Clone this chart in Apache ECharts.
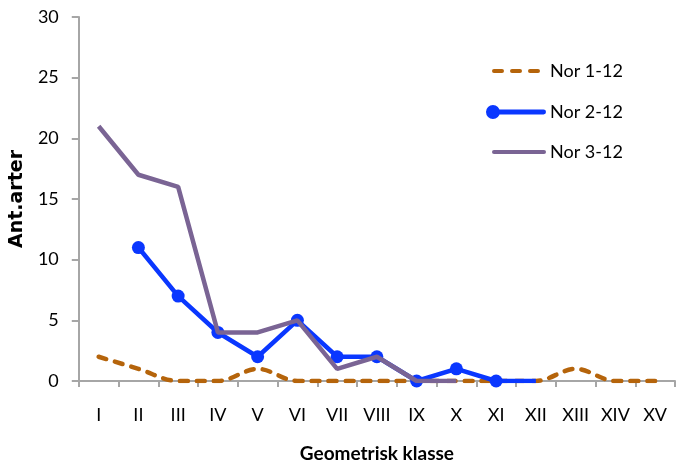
<!DOCTYPE html>
<html>
<head>
<meta charset="utf-8">
<script src="https://cdn.jsdelivr.net/npm/echarts@6/dist/echarts.min.js"></script>
<style>
  html, body { margin: 0; padding: 0; background: #fff; }
  #chart { width: 676px; height: 468px; }
</style>
</head>
<body>
<div id="chart"></div>
<script>
// Geometric classes (Roman numerals) on the category axis
var classes = ['I', 'II', 'III', 'IV', 'V', 'VI', 'VII', 'VIII', 'IX', 'X', 'XI', 'XII', 'XIII', 'XIV', 'XV'];

// Number of species per geometric class for each sample
var nor1 = [2, 1, 0, 0, 1, 0, 0, 0, 0, 0, 0, 0, 1, 0, 0];
var nor2 = [null, 11, 7, 4, 2, 5, 2, 2, 0, 1, 0, 0, null, null, null];
var nor3 = [21, 17, 16, 4, 4, 5, 1, 2, 0, 0, null, null, null, null, null];

var seriesNames = ['Nor 1-12', 'Nor 2-12', 'Nor 3-12'];

var FONT = 'Lato, "Open Sans", sans-serif';
var AXIS_GRAY = '#A6A6A6';
var C_ORANGE = '#B5640B';
var C_BLUE = '#0A37FF';
var C_PURPLE = '#7A6494';

// Legend icons: dashed stroke, line with a dot at its start, plain stroke
var ICON_DASH = 'path://M2,0h8a2,2 0 0 1 0,4h-8a2,2 0 0 1 0,-4z' +
  'M20,0h8a2,2 0 0 1 0,4h-8a2,2 0 0 1 0,-4z' +
  'M38,0h8a2,2 0 0 1 0,4h-8a2,2 0 0 1 0,-4z';
var ICON_DOT_LINE = 'path://M0,7a7,7 0 1 1 14,0a7,7 0 1 1 -14,0z M7,4.5h51a2.5,2.5 0 0 1 0,5h-51z';
var ICON_LINE = 'path://M2,0h50a2,2 0 0 1 0,4h-50a2,2 0 0 1 0,-4z';

// Blue series: the last point carries no marker
var nor2Data = nor2.map(function (v, i) {
  return i === 11 ? { value: v, symbol: 'none' } : v;
});

function legendFor(name, icon, left, w, h, top, textPad) {
  return {
    data: [{ name: name, icon: icon }],
    orient: 'vertical',
    left: left,
    top: top,
    padding: 0,
    itemWidth: w,
    itemHeight: h,
    textStyle: { fontFamily: FONT, fontSize: 18, color: '#000', padding: [0, 0, 0, textPad] }
  };
}

var chart = echarts.init(document.getElementById('chart'), null, { renderer: 'canvas' });

chart.setOption({
  animation: false,
  backgroundColor: '#ffffff',
  grid: { left: 76, right: 1, top: 17, bottom: 83, containLabel: false },
  legend: [
    legendFor(seriesNames[0], ICON_DASH, 492, 48, 4.5, 62, 5),
    legendFor(seriesNames[1], ICON_DOT_LINE, 486, 60, 14, 103, -1),
    legendFor(seriesNames[2], ICON_LINE, 492, 54, 4.5, 143, -1)
  ],
  xAxis: {
    type: 'category',
    data: classes,
    boundaryGap: true,
    name: 'Geometrisk klasse',
    nameLocation: 'middle',
    nameGap: 63,
    nameTextStyle: { fontFamily: FONT, fontSize: 19, fontWeight: 'bold', color: '#000' },
    axisLine: { lineStyle: { color: AXIS_GRAY, width: 2 } },
    axisTick: { show: true, inside: false, length: 6, alignWithLabel: false, lineStyle: { color: AXIS_GRAY, width: 2 } },
    axisLabel: { fontFamily: FONT, fontSize: 18, color: '#000', margin: 25 },
    splitLine: { show: false }
  },
  yAxis: {
    type: 'value',
    min: 0,
    max: 30,
    interval: 5,
    name: 'Ant.arter',
    nameLocation: 'middle',
    nameGap: 43,
    nameRotate: 90,
    nameTextStyle: { fontFamily: '"DejaVu Sans", sans-serif', fontSize: 19, fontWeight: 'bold', color: '#000' },
    axisLine: { show: true, lineStyle: { color: AXIS_GRAY, width: 2 } },
    axisTick: { show: true, inside: false, length: 7, lineStyle: { color: AXIS_GRAY, width: 2 } },
    axisLabel: { fontFamily: FONT, fontSize: 18, color: '#000', margin: 20 },
    splitLine: { show: false }
  },
  series: [
    {
      name: seriesNames[0],
      type: 'line',
      data: nor1,
      smooth: 0.35,
      symbol: 'none',
      z: 2,
      color: C_ORANGE,
      lineStyle: { color: C_ORANGE, width: 4.5, type: [8, 9], cap: 'round' }
    },
    {
      name: seriesNames[1],
      type: 'line',
      data: nor2Data,
      symbol: 'circle',
      symbolSize: 13,
      z: 3,
      color: C_BLUE,
      itemStyle: { color: C_BLUE },
      lineStyle: { color: C_BLUE, width: 4.5 }
    },
    {
      name: seriesNames[2],
      type: 'line',
      data: nor3,
      symbol: 'none',
      z: 4,
      color: C_PURPLE,
      lineStyle: { color: C_PURPLE, width: 4.5 }
    }
  ]
});
</script>
</body>
</html>
